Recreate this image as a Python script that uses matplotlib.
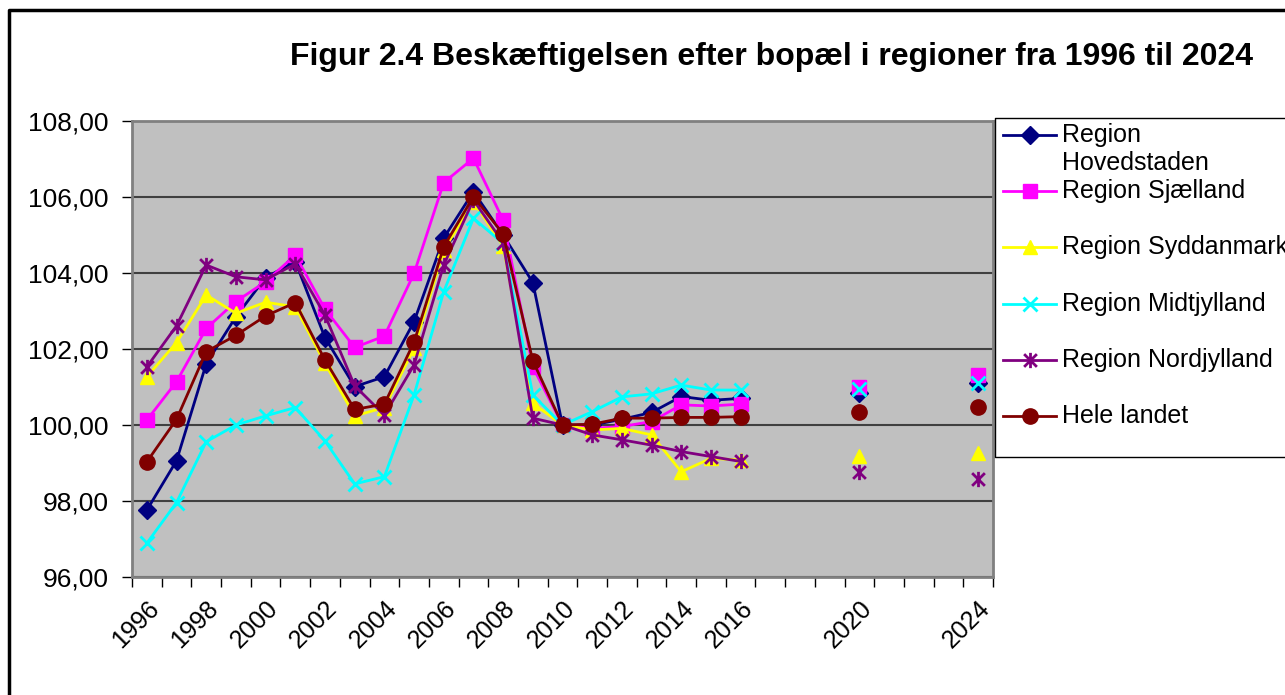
import numpy as np
import matplotlib
matplotlib.use("Agg")
import matplotlib.pyplot as plt
from matplotlib.path import Path

plt.rcParams['font.family'] = ['Liberation Sans', 'DejaVu Sans']

# data: index numbers, 2010 = 100; 2017-2019 and 2021-2023 have no values
years = list(range(1996, 2025))
tick_years = [1996, 1998, 2000, 2002, 2004, 2006, 2008, 2010, 2012, 2014, 2016, 2020, 2024]
nan = np.nan
gap = [nan, nan, nan]

hovedstaden = [97.76, 99.06, 101.61, 102.85, 103.88, 104.30, 102.30, 101.01, 101.27, 102.72,
               104.92, 106.14, 105.00, 103.75, 100.00, 100.00, 100.15, 100.33, 100.75, 100.65,
               100.70] + gap + [100.85] + gap + [101.10]
sjaelland = [100.13, 101.14, 102.54, 103.25, 103.77, 104.47, 103.05, 102.04, 102.34, 103.99,
             106.38, 107.02, 105.39, 101.53, 100.00, 99.91, 99.96, 100.09, 100.53, 100.50,
             100.55] + gap + [101.00] + gap + [101.32]
syddanmark = [101.27, 102.17, 103.42, 102.94, 103.23, 103.11, 101.62, 100.24, 100.46, 102.02,
              104.60, 105.88, 104.71, 100.57, 100.00, 99.87, 99.91, 99.74, 98.77, 99.12,
              99.08] + gap + [99.18] + gap + [99.27]
midtjylland = [96.89, 97.96, 99.56, 100.00, 100.24, 100.46, 99.58, 98.45, 98.64, 100.79,
               103.51, 105.44, 104.78, 100.79, 100.00, 100.35, 100.74, 100.82, 101.05, 100.92,
               100.92] + gap + [100.94] + gap + [101.10]
nordjylland = [101.53, 102.61, 104.21, 103.90, 103.82, 104.24, 102.89, 101.03, 100.26, 101.58,
               104.21, 105.92, 104.80, 100.18, 100.00, 99.74, 99.61, 99.47, 99.30, 99.17,
               99.04] + gap + [98.77] + gap + [98.57]
hele_landet = [99.03, 100.15, 101.93, 102.36, 102.87, 103.22, 101.71, 100.41, 100.55, 102.18,
               104.69, 106.01, 105.03, 101.69, 100.00, 100.02, 100.18, 100.18, 100.20, 100.20,
               100.22] + gap + [100.35] + gap + [100.48]

# excel style star: an x with a vertical stroke through it
star = Path([(-1, -1), (1, 1), (-1, 1), (1, -1), (0, -1.2), (0, 1.2)],
            [Path.MOVETO, Path.LINETO, Path.MOVETO, Path.LINETO, Path.MOVETO, Path.LINETO])

series = [
    ("Region\nHovedstaden", hovedstaden, "#000080", "D", 9),
    ("Region Sjælland", sjaelland, "#FF00FF", "s", 10),
    ("Region Syddanmark", syddanmark, "#FFFF00", "^", 10),
    ("Region Midtjylland", midtjylland, "#00FFFF", "x", 10),
    ("Region Nordjylland", nordjylland, "#800080", star, 11),
    ("Hele landet", hele_landet, "#800000", "o", 11),
]

W, H = 1285, 695
fig = plt.figure(figsize=(W / 100, H / 100), dpi=100)
fig.patch.set_facecolor("white")

ax = fig.add_axes([132 / W, 1 - 577 / H, (993 - 132) / W, (577 - 121) / H])
ax.set_facecolor("#C0C0C0")

for label, vals, color, marker, ms in series:
    mew = 2 if marker in ("x",) or marker is star else 1
    ax.plot(years, vals, color=color, lw=2, marker=marker, markersize=ms,
            markeredgewidth=mew, markeredgecolor=color, markerfacecolor=color, zorder=3)

ax.set_xlim(1995.5, 2024.5)
ax.set_ylim(96, 108)
ax.set_yticks(np.arange(96, 108.1, 2))
ax.set_yticklabels([f"{v:.2f}".replace(".", ",") for v in np.arange(96, 108.1, 2)])
ax.set_xticks(tick_years)
ax.set_xticklabels([str(y) for y in tick_years], rotation=45, ha="right", va="top",
                   rotation_mode="anchor")
ax.set_xticks(np.arange(1995.5, 2025, 1), minor=True)
ax.tick_params(axis="x", which="major", length=0, pad=14, labelsize=18)
ax.tick_params(axis="x", which="minor", length=7, width=1, color="black", direction="out")
ax.tick_params(axis="y", length=7, width=1, color="black", pad=10, labelsize=19)
ax.grid(axis="y", color="#404040", lw=1.5, zorder=1)
ax.set_axisbelow(True)
for sp in ax.spines.values():
    sp.set_color("#808080")
    sp.set_linewidth(2)

# overlay for frame, title and legend in pixel coordinates
ov = fig.add_axes([0, 0, 1, 1], facecolor="none")
ov.set_xlim(0, W)
ov.set_ylim(H, 0)
ov.axis("off")
ov.plot([9, 9, W + 5], [H + 5, 10, 10], color="black", lw=2.5, clip_on=False)
ov.text(771, 57, "Figur 2.4 Beskæftigelsen efter bopæl i regioner fra 1996 til 2024",
        ha="center", va="center", fontsize=23, fontweight="bold")

ov.plot([W + 5, 995, 995, W + 5], [118, 118, 457, 457], color="black", lw=1, clip_on=False)
leg_y = [135, 191, 247, 304, 360, 416]
for (label, vals, color, marker, ms), yy in zip(series, leg_y):
    mew = 2 if marker in ("x",) or marker is star else 1
    ov.plot([1003, 1056], [yy, yy], color=color, lw=2)
    ov.plot([1029.5], [yy], marker=marker, color=color, markersize=ms, markeredgewidth=mew)
    if "\n" in label:
        top, bottom = label.split("\n")
        ov.text(1062, yy, top, va="center", ha="left", fontsize=18)
        ov.text(1062, yy + 28, bottom, va="center", ha="left", fontsize=18)
    else:
        ov.text(1062, yy, label, va="center", ha="left", fontsize=18, clip_on=False)

fig.savefig("out.png", dpi=100)
